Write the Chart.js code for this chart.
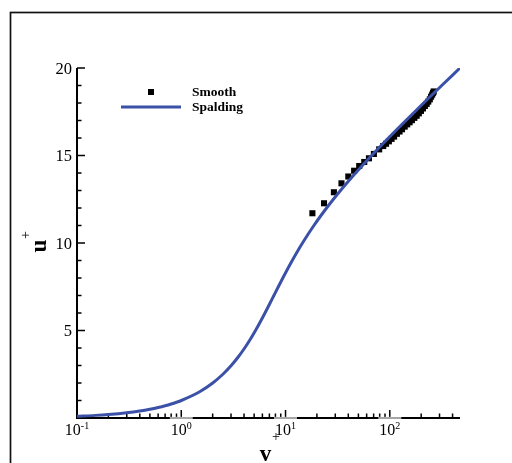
<!DOCTYPE html>
<html><head><meta charset="utf-8">
<script src="https://cdn.jsdelivr.net/npm/chart.js@4/dist/chart.umd.min.js"></script>
<style>html,body{margin:0;padding:0;background:#fff}canvas{display:block}</style>
</head><body>
<canvas id="c" width="512" height="463"></canvas>
<script>
// ---- data ----
const seriesNames = ['Smooth', 'Spalding'];
const smoothYPlus = [18.1, 23.4, 29.1, 34.4, 40.0, 45.5, 50.9, 56.9, 63.1, 70.4, 79.1, 86.5, 92, 98, 104, 110, 117, 124, 131, 139, 147, 155, 163, 172, 181, 190, 199, 208, 217, 226, 234, 242, 249, 255, 260, 264];
const smoothUPlus = [11.70, 12.27, 12.90, 13.41, 13.80, 14.13, 14.40, 14.63, 14.84, 15.09, 15.35, 15.54, 15.67, 15.81, 15.95, 16.08, 16.24, 16.37, 16.50, 16.65, 16.78, 16.90, 17.02, 17.15, 17.27, 17.41, 17.55, 17.69, 17.83, 17.95, 18.08, 18.21, 18.36, 18.48, 18.58, 18.66];
const spaldingYPlus = [0.1, 0.15, 0.2, 0.3, 0.4, 0.5, 0.6, 0.7, 0.8, 0.9, 1.0, 1.501, 2.003, 2.507, 3.016, 3.531, 4.056, 4.595, 5.152, 5.735, 6.352, 7.015, 7.735, 8.530, 9.42, 10.432, 11.60, 12.953, 14.55, 16.447, 18.72, 21.45, 24.76, 28.78, 33.68, 39.67, 47.0, 66.99, 97.1, 142.6, 211.2, 314.9, 471.4];
const spaldingUPlus = [0.1, 0.15, 0.2, 0.3, 0.4, 0.5, 0.6, 0.7, 0.8, 0.9, 1.0, 1.5, 2, 2.5, 3, 3.5, 4, 4.5, 5, 5.5, 6, 6.5, 7, 7.5, 8, 8.5, 9, 9.5, 10, 10.5, 11, 11.5, 12, 12.5, 13, 13.5, 14, 15, 16, 17, 18, 19, 20];
const xMin = 0.1, xMax = 471.4, yMin = 0, yMax = 20;
const xMajorTicks = [0.1, 1, 10, 100];
const xTickExponents = ['-1', '0', '1', '2'];
const yMajorTicks = [5, 10, 15, 20];
const yTickLabels = ['5', '10', '15', '20'];
const xAxisTitle = 'v', yAxisTitle = 'u', axisSup = '+';

const SERIF = "'Liberation Serif','Times New Roman',serif";
const LINE_COLOR = '#3b51a8';

const decor = {
  id: 'decor',
  beforeDatasetsDraw(chart) {
    const ctx = chart.ctx, a = chart.chartArea, xs = chart.scales.x, ys = chart.scales.y;
    ctx.save();
    // outer frame
    ctx.strokeStyle = '#111'; ctx.lineWidth = 1.7;
    ctx.strokeRect(10.5, 12.5, 520, 480);
    // axes lines
    ctx.strokeStyle = '#000'; ctx.lineWidth = 2;
    ctx.beginPath();
    ctx.moveTo(a.left, a.top); ctx.lineTo(a.left, a.bottom); ctx.lineTo(a.right, a.bottom);
    ctx.stroke();
    // x ticks (inward)
    ctx.lineWidth = 1.5;
    ctx.beginPath();
    for (let d = 0; d < xMajorTicks.length; d++) {
      const base = xMajorTicks[d];
      const p = xs.getPixelForValue(base);
      ctx.moveTo(p, a.bottom); ctx.lineTo(p, a.bottom - 8);
      for (let m = 2; m <= 9; m++) {
        const v = base * m;
        if (v > xMax) break;
        const q = xs.getPixelForValue(v);
        ctx.moveTo(q, a.bottom); ctx.lineTo(q, a.bottom - 4.5);
      }
    }
    // y ticks (inward)
    for (let v = 1; v <= yMax; v++) {
      const p = ys.getPixelForValue(v);
      const len = yMajorTicks.includes(v) ? 8 : 4.5;
      ctx.moveTo(a.left, p); ctx.lineTo(a.left + len, p);
    }
    ctx.stroke();
    // y tick labels
    ctx.fillStyle = '#000';
    ctx.font = '16.5px ' + SERIF;
    ctx.textAlign = 'right'; ctx.textBaseline = 'middle';
    yMajorTicks.forEach((v, i) => {
      ctx.fillText(yTickLabels[i], a.left - 5, ys.getPixelForValue(v) + 1.5);
    });
    // x tick labels 10^n
    ctx.textAlign = 'left'; ctx.textBaseline = 'alphabetic';
    xMajorTicks.forEach((v, i) => {
      const p = xs.getPixelForValue(v);
      ctx.font = '16px ' + SERIF;
      const w1 = ctx.measureText('10').width;
      ctx.font = '10px ' + SERIF;
      const w2 = ctx.measureText(xTickExponents[i]).width;
      const start = p - (w1 + w2) / 2;
      if (i > 0) {
        ctx.fillStyle = 'rgba(255,255,255,0.65)';
        ctx.fillRect(start - 1, a.bottom - 1.2, w1 + w2 + 2, 2.4);
      }
      ctx.fillStyle = '#000';
      ctx.font = '16px ' + SERIF;
      ctx.fillText('10', start, a.bottom + 16.5);
      ctx.font = '10px ' + SERIF;
      ctx.fillText(xTickExponents[i], start + w1, a.bottom + 11);
    });
    // axis titles
    ctx.font = 'bold 23px ' + SERIF;
    ctx.textAlign = 'center'; ctx.textBaseline = 'alphabetic';
    ctx.fillText(xAxisTitle, 265.5, 461);
    ctx.font = '14px ' + SERIF;
    ctx.textBaseline = 'middle';
    ctx.fillText(axisSup, 276, 437.5);
    ctx.save();
    ctx.translate(46, 246);
    ctx.rotate(-Math.PI / 2);
    ctx.font = 'bold 23px ' + SERIF;
    ctx.textAlign = 'center'; ctx.textBaseline = 'alphabetic';
    ctx.fillText(yAxisTitle, 0, 0);
    ctx.font = '14px ' + SERIF;
    ctx.textBaseline = 'middle';
    ctx.fillText(axisSup, 11, -19.5);
    ctx.restore();
    ctx.restore();
  },
  afterDatasetsDraw(chart) {
    const ctx = chart.ctx;
    ctx.save();
    // legend
    ctx.fillStyle = '#000';
    ctx.fillRect(148, 89, 6, 6);
    ctx.strokeStyle = LINE_COLOR; ctx.lineWidth = 3;
    ctx.beginPath(); ctx.moveTo(121, 107); ctx.lineTo(181, 107); ctx.stroke();
    ctx.font = 'bold 13.5px ' + SERIF;
    ctx.textAlign = 'left'; ctx.textBaseline = 'middle';
    ctx.fillText(seriesNames[0], 192, 92.5);
    ctx.fillText(seriesNames[1], 192, 108);
    ctx.restore();
  }
};

new Chart(document.getElementById('c'), {
  type: 'scatter',
  data: {
    datasets: [
      {
        label: seriesNames[0],
        data: smoothYPlus.map((x, i) => ({ x, y: smoothUPlus[i] })),
        pointStyle: 'rect', pointRadius: 4.3, backgroundColor: '#000', borderWidth: 0,
        showLine: false, order: 1
      },
      {
        label: seriesNames[1],
        data: spaldingYPlus.map((x, i) => ({ x, y: spaldingUPlus[i] })),
        showLine: true, pointRadius: 0, borderColor: LINE_COLOR, borderWidth: 3,
        cubicInterpolationMode: 'monotone', order: 0
      }
    ]
  },
  options: {
    responsive: false, animation: false, devicePixelRatio: 1,
    layout: { padding: { left: 77, right: 52, top: 68, bottom: 45 } },
    scales: {
      x: { type: 'logarithmic', min: xMin, max: xMax, display: false },
      y: { type: 'linear', min: yMin, max: yMax, display: false }
    },
    plugins: { legend: { display: false }, tooltip: { enabled: false } },
    events: []
  },
  plugins: [decor]
});
</script>
</body></html>
